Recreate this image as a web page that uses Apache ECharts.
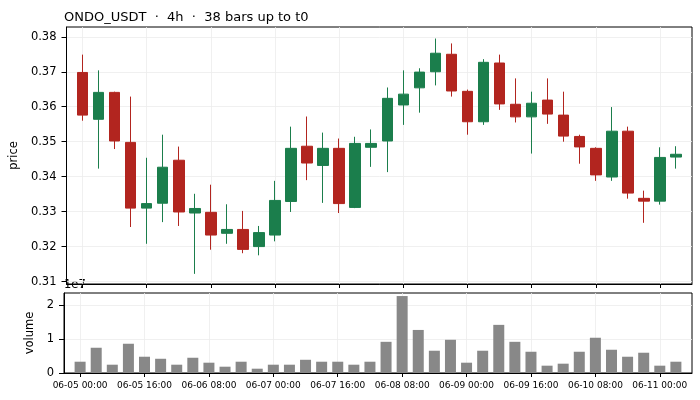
<!DOCTYPE html>
<html>
<head>
<meta charset="utf-8">
<script src="https://cdn.jsdelivr.net/npm/echarts@6/dist/echarts.min.js"></script>
<style>
  html, body { margin: 0; padding: 0; background: #fff; }
  #chart { width: 700px; height: 400px; }
</style>
</head>
<body>
<div id="chart"></div>
<script>
// bar times (4h bars)
const times = [
  '06-05 00:00', '06-05 04:00', '06-05 08:00', '06-05 12:00', '06-05 16:00', '06-05 20:00',
  '06-06 00:00', '06-06 04:00', '06-06 08:00', '06-06 12:00', '06-06 16:00', '06-06 20:00',
  '06-07 00:00', '06-07 04:00', '06-07 08:00', '06-07 12:00', '06-07 16:00', '06-07 20:00',
  '06-08 00:00', '06-08 04:00', '06-08 08:00', '06-08 12:00', '06-08 16:00', '06-08 20:00',
  '06-09 00:00', '06-09 04:00', '06-09 08:00', '06-09 12:00', '06-09 16:00', '06-09 20:00',
  '06-10 00:00', '06-10 04:00', '06-10 08:00', '06-10 12:00', '06-10 16:00', '06-10 20:00',
  '06-11 00:00', '06-11 04:00'
];
const opens = [0.3698, 0.3564, 0.3641, 0.3498, 0.3310, 0.3324, 0.3447, 0.3296, 0.3298, 0.3238,
  0.3249, 0.3200, 0.3233, 0.3329, 0.3487, 0.3432, 0.3481, 0.3312, 0.3484, 0.3502,
  0.3605, 0.3654, 0.3700, 0.3750, 0.3644, 0.3557, 0.3725, 0.3607, 0.3571, 0.3619,
  0.3576, 0.3515, 0.3481, 0.3399, 0.3530, 0.3338, 0.3330, 0.3456];
const closes = [0.3576, 0.3641, 0.3502, 0.3310, 0.3323, 0.3427, 0.3299, 0.3309, 0.3233, 0.3249,
  0.3192, 0.3240, 0.3332, 0.3481, 0.3439, 0.3481, 0.3323, 0.3495, 0.3495, 0.3624,
  0.3636, 0.3699, 0.3753, 0.3645, 0.3557, 0.3727, 0.3608, 0.3571, 0.3610, 0.3579,
  0.3516, 0.3485, 0.3405, 0.3530, 0.3353, 0.3330, 0.3455, 0.3464];
const highs = [0.3749, 0.3704, 0.3643, 0.3629, 0.3454, 0.3520, 0.3486, 0.3351, 0.3377, 0.3321,
  0.3302, 0.3259, 0.3388, 0.3543, 0.3572, 0.3526, 0.3509, 0.3514, 0.3535, 0.3655,
  0.3704, 0.3710, 0.3795, 0.3781, 0.3649, 0.3736, 0.3749, 0.3681, 0.3643, 0.3681,
  0.3643, 0.3520, 0.3484, 0.3599, 0.3543, 0.3360, 0.3484, 0.3487];
const lows = [0.3560, 0.3423, 0.3479, 0.3256, 0.3208, 0.3270, 0.3259, 0.3122, 0.3191, 0.3208,
  0.3181, 0.3175, 0.3215, 0.3299, 0.3390, 0.3325, 0.3296, 0.3310, 0.3428, 0.3413,
  0.3548, 0.3583, 0.3661, 0.3629, 0.3520, 0.3548, 0.3591, 0.3555, 0.3466, 0.3551,
  0.3500, 0.3437, 0.3388, 0.3388, 0.3337, 0.3268, 0.3320, 0.3423];
const volumes = [3330000, 7450000, 2450000, 8630000, 4800000, 4200000, 2450000, 4500000, 3040000, 1860000,
  3330000, 1270000, 2450000, 2450000, 3900000, 3330000, 3330000, 2450000, 3330000, 9200000,
  22700000, 12700000, 6570000, 9800000, 3040000, 6570000, 14200000, 9200000, 6270000, 2160000,
  2750000, 6270000, 10400000, 6860000, 4800000, 5980000, 2160000, 3330000];
const priceTicks = [0.31, 0.32, 0.33, 0.34, 0.35, 0.36, 0.37, 0.38];
const volumeTicks = [0, 10000000, 20000000];

const UP = '#1b7e4c', DOWN = '#b2251f';
const FONT = 'DejaVu Sans';

// pad one empty slot each side so the x range runs -1 .. 38 like the source
const cats = [''].concat(times, ['']);
const candles = ['-'].concat(times.map((t, i) => [opens[i], closes[i], lows[i], highs[i]]), ['-']);
const vols = ['-'].concat(volumes, ['-']);
const every4 = (idx) => idx >= 1 && idx <= times.length && (idx - 1) % 4 === 0;

function xAxis(gridIndex, showLabel) {
  return {
    type: 'category', gridIndex: gridIndex, data: cats, boundaryGap: false,
    axisLine: { show: true, onZero: false, lineStyle: { color: '#000', width: 1 } },
    axisTick: { show: true, interval: every4, length: 4, lineStyle: { color: '#000' } },
    axisLabel: { show: showLabel, interval: every4, fontFamily: FONT, fontSize: 9, color: '#000', margin: 8 },
    splitLine: { show: true, interval: every4, lineStyle: { color: '#ececec', width: 0.8 } }
  };
}

function yAxis(gridIndex, min, max, name, gap, ticks, fmt) {
  return {
    type: 'value', gridIndex: gridIndex, min: min, max: max,
    name: name, nameLocation: 'middle', nameRotate: 90, nameGap: gap,
    nameTextStyle: { fontFamily: FONT, fontSize: 11.5, color: '#000' },
    axisLine: { show: true, lineStyle: { color: '#000' } },
    axisTick: { show: true, length: 5, customValues: ticks, lineStyle: { color: '#000' } },
    axisLabel: { customValues: ticks, fontFamily: FONT, fontSize: 11.5, color: '#000', margin: 10, formatter: fmt },
    splitLine: { show: true, lineStyle: { color: '#ececec', width: 0.8 } }
  };
}

const chart = echarts.init(document.getElementById('chart'));
chart.setOption({
  animation: false,
  backgroundColor: '#fff',
  title: {
    text: 'ONDO_USDT  ·  4h  ·  38 bars up to t0',
    left: 59, top: 6,
    textStyle: { fontFamily: FONT, fontSize: 13, fontWeight: 'normal', color: '#000' }
  },
  grid: [
    { left: 64, top: 27, width: 628, height: 257, show: true, borderColor: '#000', borderWidth: 1 },
    { left: 64, top: 293, width: 628, height: 80, show: true, borderColor: '#000', borderWidth: 1 }
  ],
  xAxis: [xAxis(0, false), xAxis(1, true)],
  yAxis: [
    yAxis(0, 0.3093, 0.3828, 'price', 43, priceTicks, (v) => v.toFixed(2)),
    yAxis(1, 0, 23600000, 'volume', 27, volumeTicks, (v) => String(Math.round(v / 1e7)))
  ],
  graphic: [
    { type: 'text', left: 64, top: 279,
      style: { text: '1e7', font: '11.5px "DejaVu Sans"', fill: '#000' } }
  ],
  series: [
    {
      type: 'candlestick', xAxisIndex: 0, yAxisIndex: 0, data: candles, barWidth: 11,
      itemStyle: { color: UP, color0: DOWN, borderColor: UP, borderColor0: DOWN, borderWidth: 1 }
    },
    {
      type: 'bar', xAxisIndex: 1, yAxisIndex: 1, data: vols, barWidth: 11,
      itemStyle: { color: '#888888' }
    }
  ]
});
</script>
</body>
</html>
